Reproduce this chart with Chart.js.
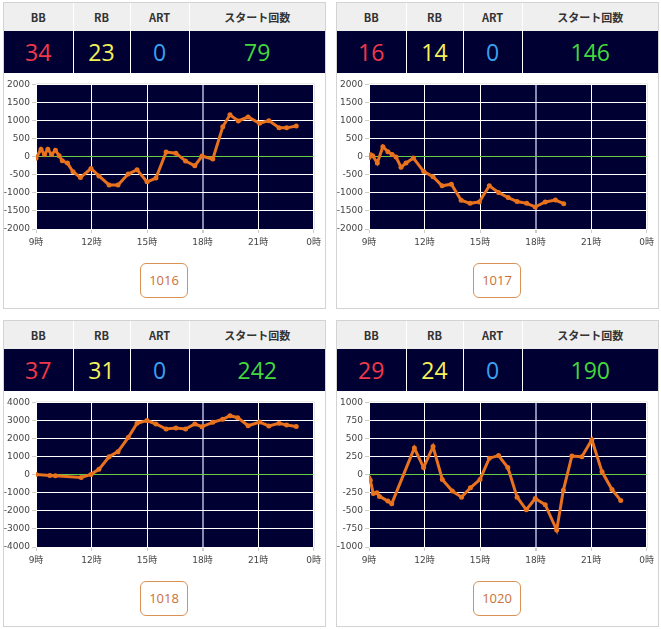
<!DOCTYPE html>
<html>
<head>
<meta charset="utf-8">
<script src="https://cdn.jsdelivr.net/npm/chart.js@4.4.0/dist/chart.umd.min.js"></script>
<style>
  html, body { margin: 0; padding: 0; background: #fff; }
  body { width: 661px; height: 629px; position: relative; overflow: hidden; font-family: 'Noto Sans CJK JP', 'Noto Sans', sans-serif; }
  .panel { position: absolute; width: 323px; height: 307px; box-sizing: border-box; border: 1px solid #d3d3d3; background: #fff; }
  .tbl { position: absolute; left: 0; top: 0; width: 321px; border-collapse: collapse; table-layout: fixed; }
  .tbl th { height: 28px; background: #efefef; color: #333; font-size: 11px; font-weight: bold; border-right: 1px solid #fff; padding: 0; }
  .tbl td { height: 42px; background: #000033; font-size: 23px; text-align: center; border-right: 1px solid #fff; padding: 0; font-family: 'Open Sans', 'Noto Sans', sans-serif; }
  .tbl th:last-child, .tbl td:last-child { border-right: none; }
  .bb { color: #f0384a; }
  .rb { color: #f4f25a; }
  .art { color: #3aa0f0; }
  .st { color: #44d83c; }
  canvas { position: absolute; left: 0; top: 72px; }
  .btn { position: absolute; left: 136px; top: 260px; width: 48px; height: 35px; box-sizing: border-box; border: 1px solid #d99255; border-radius: 6px; color: #c96f38; font-size: 13px; line-height: 33px; text-align: center; font-family: 'Open Sans', 'Noto Sans', sans-serif; }
</style>
</head>
<body>
<script>
// counters per machine
var machineIds = ['1016', '1017', '1018', '1020'];
var bbCounts = [34, 16, 37, 29];
var rbCounts = [23, 14, 31, 24];
var artCounts = [0, 0, 0, 0];
var startCounts = [79, 146, 242, 190];

var xTickValues = [9, 12, 15, 18, 21, 24];
var xTickLabels = ['9時', '12時', '15時', '18時', '21時', '0時'];

// slump graph points (hour, value)
var hours1016 = [9.0, 9.27, 9.46, 9.64, 9.84, 10.05, 10.25, 10.42, 10.7, 11.0, 11.4, 11.97, 12.4, 12.95, 13.43, 13.98, 14.46, 15.0, 15.48, 16.03, 16.56, 17.08, 17.58, 17.97, 18.55, 19.09, 19.48, 19.93, 20.46, 21.08, 21.58, 22.13, 22.54, 23.06];
var values1016 = [-40, 210, 60, 210, 60, 180, 30, -110, -175, -415, -575, -325, -530, -780, -780, -480, -360, -695, -590, 130, 100, -120, -250, 20, -65, 830, 1160, 990, 1100, 925, 1000, 805, 800, 850];

var hours1017 = [9.0, 9.09, 9.2, 9.45, 9.75, 10.02, 10.25, 10.46, 10.73, 11.0, 11.4, 11.96, 12.46, 12.95, 13.45, 13.98, 14.46, 14.96, 15.5, 16.0, 16.52, 17.0, 17.52, 17.98, 18.52, 19.07, 19.52];
var values1017 = [-20, 55, 30, -175, 280, 140, 65, -10, -290, -175, -35, -410, -555, -805, -760, -1205, -1290, -1250, -805, -990, -1130, -1240, -1290, -1390, -1250, -1200, -1300];

var hours1018 = [9.0, 9.75, 10.05, 11.44, 11.97, 12.4, 12.95, 13.43, 13.98, 14.46, 15.0, 15.48, 16.03, 16.56, 17.08, 17.58, 17.97, 18.55, 19.09, 19.48, 19.9, 20.46, 21.08, 21.58, 22.13, 22.54, 23.06];
var values1018 = [20, -40, -55, -150, 20, 300, 1000, 1280, 2060, 2850, 3000, 2810, 2530, 2590, 2530, 2810, 2660, 2900, 3070, 3270, 3160, 2715, 2920, 2700, 2850, 2750, 2670];

var hours1020 = [9.0, 9.07, 9.23, 9.43, 9.57, 10.02, 10.23, 11.45, 11.95, 12.46, 12.96, 13.5, 14.0, 14.48, 15.0, 15.5, 16.0, 16.5, 17.0, 17.5, 17.98, 18.52, 19.14, 19.5, 19.96, 20.5, 21.04, 21.59, 22.13, 22.6];
var values1020 = [-40, -75, -260, -250, -300, -365, -400, 370, 100, 390, -65, -225, -310, -180, -65, 230, 265, 100, -310, -485, -330, -415, -765, -215, 260, 250, 485, 40, -205, -355];

var seriesHours = [hours1016, hours1017, hours1018, hours1020];
var seriesValues = [values1016, values1017, values1018, values1020];
var yMins = [-2000, -2000, -4000, -1000];
var yMaxs = [2000, 2000, 4000, 1000];
var ySteps = [500, 500, 1000, 250];

var panelLefts = [3, 336, 3, 336];
var panelTops = [2, 2, 320, 320];

var plotBackground = {
  id: 'plotBackground',
  beforeDraw: function(chart) {
    var a = chart.chartArea;
    var ctx = chart.ctx;
    ctx.save();
    ctx.fillStyle = '#000033';
    ctx.fillRect(a.left, a.top, a.right - a.left, a.bottom - a.top);
    ctx.strokeStyle = '#d8d8d8';
    ctx.lineWidth = 1;
    ctx.strokeRect(a.left + 0.5, a.top - 0.5, a.right - a.left, a.bottom - a.top + 1);
    ctx.restore();
  }
};

function buildPanel(i) {
  var panel = document.createElement('div');
  panel.className = 'panel';
  panel.style.left = panelLefts[i] + 'px';
  panel.style.top = panelTops[i] + 'px';
  panel.innerHTML =
    '<table class="tbl"><colgroup><col style="width:69px"><col style="width:57px"><col style="width:59px"><col></colgroup>' +
    '<tr><th>BB</th><th>RB</th><th>ART</th><th>スタート回数</th></tr>' +
    '<tr><td class="bb">' + bbCounts[i] + '</td><td class="rb">' + rbCounts[i] + '</td>' +
    '<td class="art">' + artCounts[i] + '</td><td class="st">' + startCounts[i] + '</td></tr></table>' +
    '<canvas width="321" height="180"></canvas>' +
    '<div class="btn">' + machineIds[i] + '</div>';
  document.body.appendChild(panel);

  var points = seriesHours[i].map(function(h, k) { return { x: h, y: seriesValues[i][k] }; });
  var ctx = panel.querySelector('canvas').getContext('2d');

  new Chart(ctx, {
    type: 'line',
    data: {
      datasets: [{
        data: points,
        borderColor: '#e8721e',
        backgroundColor: '#e8721e',
        borderWidth: 3,
        pointRadius: 2.5,
        pointBackgroundColor: '#e8721e',
        pointBorderWidth: 0,
        tension: 0
      }]
    },
    options: {
      responsive: false,
      animation: false,
      layout: { padding: { top: 9.5, right: 9, left: 0, bottom: 0 } },
      plugins: { legend: { display: false }, tooltip: { enabled: false } },
      scales: {
        x: {
          type: 'linear',
          min: 9,
          max: 24,
          afterBuildTicks: function(scale) {
            scale.ticks = xTickValues.map(function(v) { return { value: v }; });
          },
          afterFit: function(scale) { scale.height = 26; },
          ticks: {
            autoSkip: false,
            maxRotation: 0,
            padding: 4,
            color: '#444',
            font: { family: "'DejaVu Sans', 'Noto Sans CJK JP'", size: 9 },
            callback: function(v) { return xTickLabels[xTickValues.indexOf(v)]; }
          },
          grid: {
            color: function(c) { return c.tick && c.tick.value === 18 ? '#8a8ab0' : '#ffffff'; },
            tickColor: '#cccccc',
            tickLength: 4,
            lineWidth: function(c) { return c.tick && c.tick.value === 18 ? 2 : 1; }
          },
          border: { display: false }
        },
        y: {
          min: yMins[i],
          max: yMaxs[i],
          afterFit: function(scale) { scale.width = 32; },
          ticks: {
            stepSize: ySteps[i],
            padding: 2,
            color: '#444',
            font: { family: "'DejaVu Sans'", size: 9 },
            callback: function(v) { return String(v); }
          },
          grid: {
            color: function(c) { return c.tick && c.tick.value === 0 ? '#66cc44' : '#ffffff'; },
            tickColor: '#cccccc',
            tickLength: 4,
            lineWidth: 1
          },
          border: { display: false }
        }
      }
    },
    plugins: [plotBackground]
  });
}

for (var i = 0; i < machineIds.length; i++) buildPanel(i);
</script>
</body>
</html>
